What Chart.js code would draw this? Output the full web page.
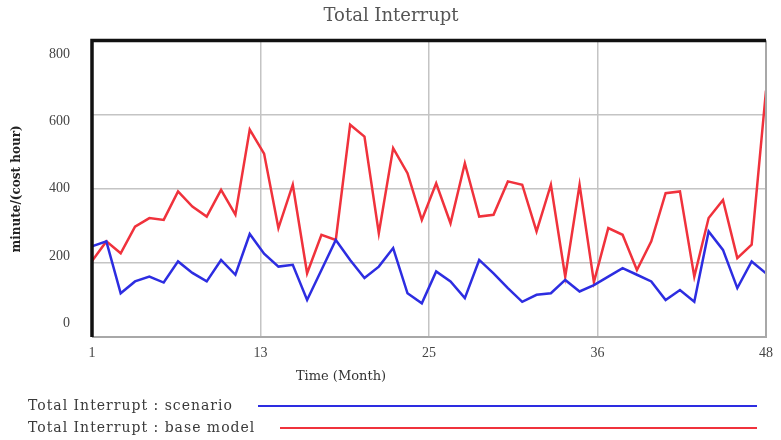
<!DOCTYPE html>
<html>
<head>
<meta charset="utf-8">
<script src="https://cdn.jsdelivr.net/npm/chart.js@4/dist/chart.umd.min.js"></script>
<style>
  html, body { margin: 0; padding: 0; background: #fff; }
  #wrap { width: 781px; height: 440px; }
</style>
</head>
<body>
<div id="wrap"><canvas id="interruptChart" width="781" height="440"></canvas></div>
<script>
const months = [1, 2, 3, 4, 5, 6, 7, 8, 9, 10, 11, 12, 13, 14, 15, 16, 17, 18, 19, 20, 21, 22, 23, 24,
  25, 26, 27, 28, 29, 30, 31, 32, 33, 34, 35, 36, 37, 38, 39, 40, 41, 42, 43, 44, 45, 46, 47, 48];
const scenario = [245, 258, 118, 150, 163, 147, 204, 173, 150, 208, 168, 278, 225, 190, 195, 100, 181, 262, 208, 159, 190, 240, 118, 91,
  177, 150, 105, 208, 172, 132, 95, 114, 118, 154, 123, 140, 163, 186, 168, 150, 100, 127, 95, 285, 235, 132, 204, 172];
const baseModel = [205, 258, 226, 298, 321, 316, 393, 352, 325, 397, 330, 560, 495, 294, 411, 172, 276, 262, 573, 541, 280, 510, 442, 316,
  415, 307, 469, 325, 330, 420, 411, 285, 411, 163, 411, 148, 294, 276, 181, 258, 388, 393, 163, 321, 370, 213, 249, 665];
const xTickValues = [1, 12.75, 24.5, 36.25, 48];
const xTickLabels = ['1', '13', '25', '36', '48'];
const yTickValues = [0, 200, 400, 600, 800];
const seriesNames = ['Total Interrupt : scenario', 'Total Interrupt : base model'];
const xTitle = 'Time (Month)';

const serif = '"Liberation Serif", "DejaVu Serif", serif';
const wideSerif = '"DejaVu Serif", serif';

// frame of the plot: thick black top and left, grey right and bottom
const framePlugin = {
  id: 'frame',
  afterDatasetsDraw(chart) {
    const a = chart.chartArea, c = chart.ctx;
    c.save();
    c.strokeStyle = '#a8a8a8';
    c.lineWidth = 2;
    c.beginPath();
    c.moveTo(a.right, a.top); c.lineTo(a.right, a.bottom); c.lineTo(a.left, a.bottom);
    c.stroke();
    c.strokeStyle = '#111';
    c.lineWidth = 3.5;
    c.beginPath();
    c.moveTo(a.left, a.bottom); c.lineTo(a.left, a.top); c.lineTo(a.right, a.top);
    c.stroke();
    c.restore();
  }
};

// Vensim style legend (name then a long line) and the off-centre time label
const legendPlugin = {
  id: 'longLegend',
  afterDraw(chart) {
    const c = chart.ctx;
    const rows = [{ y: 406, x0: 258 }, { y: 428, x0: 280 }];
    c.save();
    c.textBaseline = 'middle';
    c.fillStyle = '#333';
    c.font = '13px ' + wideSerif;
    c.textAlign = 'center';
    c.fillText(xTitle, 341, 377);
    c.textAlign = 'left';
    c.font = '14px ' + wideSerif;
    c.letterSpacing = '1px';
    c.fillStyle = '#3a3a3a';
    chart.data.datasets.forEach((ds, i) => {
      c.fillText(ds.label, 28, rows[i].y);
      c.strokeStyle = ds.borderColor;
      c.lineWidth = 2;
      c.beginPath();
      c.moveTo(rows[i].x0, rows[i].y);
      c.lineTo(757, rows[i].y);
      c.stroke();
    });
    c.restore();
  }
};

new Chart(document.getElementById('interruptChart'), {
  type: 'line',
  data: {
    datasets: [{
      label: seriesNames[0],
      data: months.map((m, i) => ({ x: m, y: scenario[i] })),
      borderColor: 'rgb(45, 45, 225)',
      borderWidth: 2.5,
      pointRadius: 0,
      tension: 0
    }, {
      label: seriesNames[1],
      data: months.map((m, i) => ({ x: m, y: baseModel[i] })),
      borderColor: 'rgb(240, 50, 60)',
      borderWidth: 2.5,
      pointRadius: 0,
      tension: 0
    }]
  },
  options: {
    responsive: false,
    animation: false,
    layout: { padding: { left: 10, right: 9, top: 0, bottom: 53 } },
    plugins: {
      legend: { display: false },
      tooltip: { enabled: false },
      title: {
        display: true,
        text: 'Total Interrupt',
        color: '#555',
        font: { family: wideSerif, size: 18, weight: 'normal' },
        padding: { top: 6, bottom: 13 }
      }
    },
    scales: {
      x: {
        type: 'linear',
        min: 1,
        max: 48,
        afterBuildTicks: (axis) => { axis.ticks = xTickValues.map(v => ({ value: v })); },
        afterFit: (axis) => { axis.height = 50; },
        grid: { color: '#c4c4c4', lineWidth: 1.5, drawTicks: false },
        border: { display: false },
        ticks: {
          padding: 8,
          color: '#444',
          font: { family: serif, size: 14 },
          callback: (v) => xTickLabels[xTickValues.indexOf(v)]
        }
      },
      y: {
        min: 0,
        max: 800,
        weight: 0,
        afterBuildTicks: (axis) => { axis.ticks = yTickValues.map(v => ({ value: v })); },
        afterFit: (axis) => { axis.width = 0; },
        grid: { color: '#c4c4c4', lineWidth: 1.5, drawTicks: false },
        border: { display: false },
        ticks: { display: false }
      },
      // label-only axis: Vensim spreads the tick labels a little inside the frame
      yLabels: {
        type: 'linear',
        position: 'left',
        weight: 1,
        min: -41.8,
        max: 841.8,
        afterBuildTicks: (axis) => { axis.ticks = yTickValues.map(v => ({ value: v })); },
        afterFit: (axis) => { axis.width = 82; },
        grid: { display: false, drawTicks: false },
        border: { display: false },
        ticks: {
          padding: 22,
          color: '#444',
          font: { family: serif, size: 14 }
        },
        title: {
          display: true,
          text: 'minute/(cost hour)',
          color: '#222',
          font: { family: wideSerif, size: 12, weight: 'bold' },
          padding: { top: 0, bottom: 0 }
        }
      }
    }
  },
  plugins: [framePlugin, legendPlugin]
});
</script>
</body>
</html>
